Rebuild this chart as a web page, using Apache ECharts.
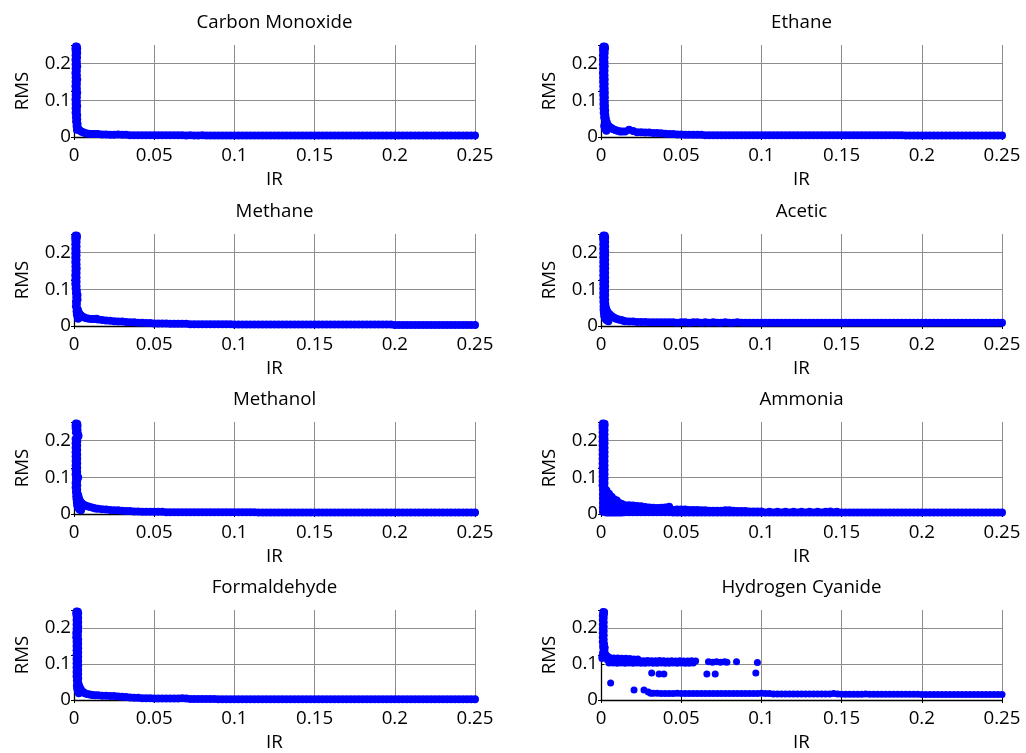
<!DOCTYPE html>
<html>
<head>
<meta charset="utf-8">
<script src="https://cdn.jsdelivr.net/npm/echarts@6/dist/echarts.min.js"></script>
<style>html,body{margin:0;padding:0;background:#fff}#c{width:1026px;height:753px}</style>
</head>
<body>
<div id="c"></div>
<script>
// ---------------- DATA ----------------
const gasNames = ['Carbon Monoxide','Ethane','Methane','Acetic','Methanol','Ammonia','Formaldehyde','Hydrogen Cyanide'];
const irTickLabels = ['0','0.05','0.1','0.15','0.2','0.25'];
const rmsTickLabels = ['0','0.1','0.2'];
const xName = 'IR';
const yName = 'RMS';

// shared IR sample positions of the flat tails
const irTail = [
0.015,0.0175,0.02,0.0225,0.025,0.0275,0.03,0.0325,0.035,0.0375,
0.04,0.0425,0.045,0.0475,0.05,0.0525,0.055,0.0575,0.06,0.0625,
0.065,0.0675,0.07,0.0725,0.075,0.0775,0.08,0.0825,0.085,0.0875,
0.09,0.0925,0.095,0.0975,0.1,0.1025,0.105,0.1075,0.11,0.1125,
0.115,0.1175,0.12,0.1225,0.125,0.1275,0.13,0.1325,0.135,0.1375,
0.14,0.1425,0.145,0.1475,0.15,0.1525,0.155,0.1575,0.16,0.1625,
0.165,0.1675,0.17,0.1725,0.175,0.1775,0.18,0.1825,0.185,0.1875,
0.19,0.1925,0.195,0.1975,0.2,0.2025,0.205,0.2075,0.21,0.2125,
0.215,0.2175,0.22,0.2225,0.225,0.2275,0.23,0.2325,0.235,0.2375,
0.24,0.2425,0.245,0.2475,0.25];

// ---- Carbon Monoxide ----
const coHead = [
[0.0012,0.246],[0.0018,0.245],[0.0009,0.241],[0.0020,0.240],
[0.0010,0.234],[0.0020,0.228],[0.0010,0.222],[0.0019,0.216],[0.0009,0.210],[0.0018,0.204],[0.0010,0.198],[0.0020,0.192],[0.0010,0.186],[0.0018,0.180],[0.0009,0.174],[0.0018,0.168],[0.0010,0.162],[0.0020,0.156],[0.0010,0.150],[0.0018,0.144],[0.0009,0.138],[0.0018,0.132],[0.0010,0.126],[0.0020,0.120],[0.0010,0.114],[0.0018,0.108],[0.0009,0.102],[0.0018,0.096],[0.0010,0.090],[0.0020,0.084],[0.0010,0.078],[0.0018,0.072],[0.0010,0.066],[0.0020,0.060],[0.0012,0.054],[0.0020,0.048],[0.0013,0.042],[0.0022,0.036],[0.0016,0.030],[0.0024,0.025],[0.0018,0.020],
[0.0030,0.020],[0.0038,0.017],[0.0048,0.014],[0.0060,0.012],[0.0074,0.010],[0.0090,0.009],[0.0106,0.008],[0.0122,0.008],[0.0137,0.008]];
const coTail = [
0.008,0.007,0.007,0.006,0.006,0.007,0.006,0.006,0.005,0.005,
0.005,0.005,0.005,0.005,0.005,0.005,0.005,0.005,0.005,0.005,
0.005,0.005,0.004,0.005,0.004,0.004,0.005,0.004,0.004,0.004,
0.004,0.004,0.004,0.004,0.004,0.004,0.004,0.004,0.004,0.004,
0.004,0.004,0.004,0.004,0.004,0.004,0.004,0.004,0.004,0.004,
0.004,0.004,0.004,0.004,0.004,0.004,0.004,0.004,0.004,0.004,
0.004,0.004,0.004,0.004,0.004,0.004,0.004,0.004,0.004,0.004,
0.004,0.004,0.004,0.004,0.004,0.004,0.004,0.004,0.004,0.004,
0.004,0.004,0.004,0.004,0.004,0.004,0.004,0.004,0.004,0.004,
0.004,0.004,0.004,0.004,0.004];

// ---- Ethane ----
const ethaneHead = [
[0.0016,0.246],[0.0024,0.245],[0.0013,0.241],[0.0025,0.240],
[0.0013,0.234],[0.0023,0.228],[0.0012,0.222],[0.0022,0.216],[0.0012,0.210],[0.0022,0.204],[0.0012,0.198],[0.0023,0.192],[0.0013,0.186],[0.0022,0.180],[0.0012,0.174],[0.0022,0.168],[0.0013,0.162],[0.0023,0.156],[0.0013,0.150],[0.0023,0.144],[0.0014,0.138],[0.0023,0.132],[0.0014,0.126],[0.0024,0.120],[0.0014,0.114],[0.0024,0.108],[0.0015,0.102],[0.0024,0.096],[0.0015,0.090],[0.0025,0.084],[0.0016,0.078],[0.0026,0.072],[0.0017,0.066],[0.0027,0.060],
[0.0020,0.054],[0.0030,0.050],[0.0026,0.044],[0.0036,0.040],[0.0032,0.034],[0.0044,0.032],[0.0052,0.028],[0.0062,0.025],[0.0074,0.022],[0.0088,0.019],[0.0103,0.017],[0.0118,0.015],[0.0132,0.015],
[0.0020,0.030],[0.0026,0.022],[0.0034,0.017]];
const ethaneTail = [
0.015,0.020,0.016,0.013,0.013,0.012,0.012,0.011,0.011,0.010,
0.009,0.008,0.008,0.007,0.007,0.006,0.006,0.006,0.006,0.006,
0.005,0.005,0.005,0.005,0.005,0.005,0.005,0.005,0.005,0.005,
0.005,0.005,0.005,0.005,0.005,0.005,0.005,0.005,0.005,0.005,
0.005,0.005,0.005,0.005,0.005,0.005,0.005,0.005,0.005,0.005,
0.005,0.005,0.005,0.005,0.005,0.005,0.005,0.005,0.005,0.005,
0.005,0.005,0.005,0.005,0.005,0.005,0.005,0.005,0.005,0.005,
0.004,0.004,0.004,0.004,0.004,0.004,0.004,0.004,0.004,0.004,
0.004,0.004,0.004,0.004,0.004,0.004,0.004,0.004,0.004,0.004,
0.004,0.004,0.004,0.004,0.004];

// ---- Methane ----
const methaneHead = [
[0.0010,0.246],[0.0018,0.245],[0.0008,0.241],[0.0018,0.240],
[0.0008,0.234],[0.0016,0.228],[0.0008,0.222],[0.0016,0.216],[0.0008,0.210],[0.0016,0.204],[0.0008,0.198],[0.0016,0.192],[0.0008,0.186],[0.0016,0.180],[0.0008,0.174],[0.0016,0.168],[0.0009,0.162],[0.0017,0.156],[0.0009,0.150],[0.0016,0.144],[0.0008,0.138],[0.0016,0.132],[0.0008,0.126],[0.0016,0.120],[0.0008,0.114],[0.0016,0.108],[0.0010,0.102],[0.0018,0.096],[0.0012,0.090],[0.0022,0.084],[0.0014,0.078],[0.0022,0.072],[0.0012,0.066],[0.0018,0.060],[0.0012,0.054],[0.0018,0.048],
[0.0024,0.044],[0.0028,0.038],[0.0034,0.033],[0.0042,0.029],[0.0052,0.026],[0.0064,0.023],[0.0078,0.021],[0.0094,0.020],[0.0110,0.019],[0.0126,0.019],[0.0140,0.020],
[0.0016,0.040],[0.0018,0.032],[0.0022,0.025],[0.0026,0.020]];
const methaneTail = [
0.018,0.016,0.015,0.014,0.013,0.012,0.012,0.011,0.010,0.010,
0.009,0.009,0.008,0.008,0.007,0.007,0.007,0.007,0.006,0.006,
0.006,0.006,0.006,0.005,0.005,0.005,0.005,0.005,0.005,0.005,
0.005,0.005,0.005,0.005,0.004,0.004,0.004,0.004,0.004,0.004,
0.004,0.004,0.004,0.004,0.004,0.004,0.004,0.004,0.004,0.004,
0.004,0.004,0.004,0.004,0.004,0.004,0.004,0.004,0.004,0.004,
0.004,0.004,0.004,0.004,0.004,0.004,0.004,0.004,0.004,0.004,
0.004,0.004,0.004,0.004,0.003,0.003,0.003,0.003,0.003,0.003,
0.003,0.003,0.003,0.003,0.003,0.003,0.003,0.003,0.003,0.003,
0.003,0.003,0.003,0.003,0.003];

// ---- Acetic ----
const aceticHead = [
[0.0016,0.246],[0.0024,0.245],[0.0013,0.241],[0.0026,0.240],
[0.0014,0.234],[0.0026,0.228],[0.0014,0.222],[0.0026,0.216],[0.0014,0.210],[0.0026,0.204],[0.0014,0.198],[0.0026,0.192],[0.0014,0.186],[0.0026,0.180],[0.0014,0.174],[0.0026,0.168],[0.0014,0.162],[0.0026,0.156],[0.0014,0.150],[0.0026,0.144],[0.0014,0.138],[0.0026,0.132],[0.0014,0.126],[0.0026,0.120],[0.0014,0.114],[0.0026,0.108],[0.0014,0.102],[0.0026,0.096],[0.0014,0.090],[0.0026,0.084],[0.0014,0.078],[0.0026,0.072],[0.0015,0.066],[0.0027,0.060],[0.0016,0.054],[0.0030,0.050],
[0.0034,0.044],[0.0040,0.039],[0.0048,0.034],[0.0058,0.030],[0.0068,0.026],[0.0080,0.023],[0.0094,0.020],[0.0110,0.018],[0.0126,0.016],[0.0140,0.014],
[0.0016,0.044],[0.0018,0.036],[0.0020,0.028],[0.0026,0.021],[0.0034,0.016],[0.0046,0.013]];
const aceticTail = [
0.013,0.012,0.012,0.011,0.011,0.011,0.010,0.010,0.010,0.010,
0.010,0.010,0.010,0.009,0.010,0.010,0.009,0.010,0.010,0.009,
0.010,0.009,0.010,0.009,0.009,0.010,0.009,0.009,0.010,0.009,
0.009,0.009,0.009,0.009,0.009,0.009,0.009,0.009,0.009,0.009,
0.009,0.009,0.009,0.009,0.009,0.009,0.009,0.009,0.009,0.009,
0.009,0.009,0.009,0.009,0.009,0.009,0.009,0.009,0.009,0.009,
0.009,0.009,0.009,0.009,0.009,0.009,0.009,0.009,0.009,0.009,
0.009,0.009,0.009,0.009,0.009,0.009,0.009,0.009,0.009,0.009,
0.009,0.009,0.009,0.009,0.009,0.009,0.009,0.009,0.009,0.009,
0.009,0.009,0.009,0.009,0.009];

// ---- Methanol ----
const methanolHead = [
[0.0012,0.246],[0.0020,0.245],[0.0010,0.241],[0.0022,0.240],
[0.0010,0.234],[0.0022,0.228],[0.0012,0.222],[0.0026,0.216],[0.0028,0.212],[0.0022,0.208],[0.0010,0.204],[0.0020,0.198],[0.0010,0.192],[0.0020,0.186],[0.0010,0.180],[0.0020,0.174],[0.0010,0.168],[0.0020,0.162],[0.0010,0.156],[0.0020,0.150],[0.0010,0.144],[0.0020,0.138],[0.0010,0.132],[0.0020,0.126],[0.0010,0.120],[0.0020,0.114],[0.0010,0.108],[0.0022,0.102],[0.0026,0.099],[0.0012,0.096],[0.0020,0.090],[0.0010,0.084],[0.0020,0.078],[0.0010,0.072],[0.0020,0.066],[0.0012,0.060],[0.0022,0.056],
[0.0026,0.050],[0.0030,0.044],[0.0034,0.038],[0.0040,0.033],[0.0048,0.029],[0.0058,0.026],[0.0070,0.023],[0.0085,0.021],[0.0100,0.019],[0.0118,0.017],[0.0134,0.015],
[0.0014,0.048],[0.0016,0.040],[0.0018,0.032],[0.0020,0.024],[0.0026,0.017],[0.0034,0.012],[0.0044,0.010]];
const methanolTail = [
0.014,0.013,0.012,0.011,0.010,0.010,0.009,0.008,0.008,0.007,
0.007,0.006,0.006,0.006,0.006,0.006,0.006,0.005,0.005,0.005,
0.005,0.005,0.005,0.005,0.005,0.005,0.005,0.005,0.005,0.005,
0.005,0.005,0.005,0.005,0.005,0.005,0.005,0.005,0.005,0.005,
0.004,0.004,0.004,0.004,0.004,0.004,0.004,0.004,0.004,0.004,
0.004,0.004,0.004,0.004,0.004,0.004,0.004,0.004,0.004,0.004,
0.004,0.004,0.004,0.004,0.004,0.004,0.004,0.004,0.004,0.004,
0.004,0.004,0.004,0.004,0.004,0.004,0.004,0.004,0.004,0.004,
0.004,0.004,0.004,0.004,0.004,0.004,0.004,0.004,0.004,0.004,
0.004,0.004,0.004,0.004,0.004];

// ---- Ammonia ----
const ammoniaHead = [
[0.0012,0.246],[0.0022,0.245],[0.0010,0.241],[0.0022,0.240],
[0.0010,0.234],[0.0022,0.228],[0.0010,0.222],[0.0022,0.216],[0.0010,0.210],[0.0022,0.204],[0.0010,0.198],[0.0022,0.192],[0.0010,0.186],[0.0022,0.180],[0.0010,0.174],[0.0022,0.168],[0.0010,0.162],[0.0022,0.156],[0.0010,0.150],[0.0022,0.144],[0.0010,0.138],[0.0022,0.132],[0.0010,0.126],[0.0022,0.120],[0.0010,0.114],[0.0022,0.108],[0.0010,0.102],[0.0022,0.096],[0.0010,0.090],[0.0022,0.084],[0.0010,0.078],[0.0022,0.072],[0.0012,0.066],[0.0022,0.060],[0.0012,0.054],[0.0022,0.048],[0.0012,0.042],[0.0022,0.036],[0.0012,0.030],[0.0022,0.024],[0.0012,0.018],[0.0022,0.012],[0.0012,0.006],
[0.0034,0.004],[0.0034,0.013],[0.0034,0.022],[0.0034,0.031],[0.0034,0.040],[0.0034,0.049],[0.0034,0.058],[0.0034,0.064],
[0.0050,0.004],[0.0050,0.013],[0.0050,0.022],[0.0050,0.031],[0.0050,0.040],[0.0050,0.049],[0.0050,0.055],
[0.0066,0.004],[0.0066,0.013],[0.0066,0.022],[0.0066,0.031],[0.0066,0.040],[0.0066,0.047],
[0.0082,0.004],[0.0082,0.013],[0.0082,0.022],[0.0082,0.031],[0.0082,0.040],
[0.0098,0.004],[0.0098,0.013],[0.0098,0.022],[0.0098,0.031],[0.0098,0.037],
[0.0114,0.004],[0.0114,0.013],[0.0114,0.022],[0.0114,0.030],
[0.0130,0.004],[0.0130,0.013],[0.0130,0.022],[0.0130,0.027]];
const ammoniaUpper = [
[0.015,0.013],[0.015,0.024],[0.0175,0.013],[0.0175,0.024],[0.02,0.013],[0.02,0.023],[0.0225,0.013],[0.0225,0.022],[0.025,0.013],[0.025,0.021],[0.0275,0.012],[0.0275,0.019],[0.03,0.012],[0.03,0.018],[0.0325,0.012],[0.0325,0.017],[0.035,0.011],[0.035,0.016],[0.0375,0.011],[0.0375,0.017],[0.04,0.012],[0.04,0.018],[0.0425,0.012],[0.0425,0.020],
[0.045,0.011],[0.0475,0.012],[0.05,0.012],[0.0525,0.012],[0.055,0.011],[0.0575,0.011],[0.06,0.011],[0.0625,0.010],[0.065,0.010],[0.0675,0.009],[0.07,0.009],[0.0725,0.009],[0.075,0.009],[0.0775,0.010],[0.08,0.010],[0.0825,0.009],[0.085,0.008],[0.0875,0.008],[0.09,0.008],[0.0925,0.007],[0.095,0.007],[0.0975,0.007],[0.1,0.007],[0.105,0.006],[0.11,0.006],[0.115,0.006],[0.12,0.006],[0.125,0.006],[0.13,0.006],[0.135,0.006],[0.14,0.006],[0.143,0.007],[0.147,0.006]];
const ammoniaTail = [
0.005,0.005,0.005,0.005,0.005,0.005,0.005,0.005,0.005,0.005,
0.005,0.005,0.004,0.004,0.004,0.004,0.004,0.004,0.004,0.004,
0.004,0.004,0.004,0.004,0.004,0.004,0.004,0.004,0.004,0.004,
0.004,0.004,0.004,0.004,0.004,0.004,0.004,0.004,0.004,0.004,
0.004,0.004,0.004,0.004,0.004,0.004,0.004,0.004,0.004,0.004,
0.004,0.004,0.004,0.004,0.004,0.004,0.004,0.004,0.004,0.004,
0.004,0.004,0.004,0.004,0.004,0.004,0.004,0.004,0.004,0.004,
0.004,0.004,0.004,0.004,0.004,0.004,0.004,0.004,0.004,0.004,
0.004,0.004,0.004,0.004,0.004,0.004,0.004,0.004,0.004,0.004,
0.004,0.004,0.004,0.004,0.004];

// ---- Formaldehyde ----
const formaldehydeHead = [
[0.0016,0.246],[0.0024,0.245],[0.0014,0.241],[0.0026,0.240],
[0.0016,0.234],[0.0026,0.228],[0.0016,0.222],[0.0026,0.216],[0.0016,0.210],[0.0026,0.204],[0.0016,0.198],[0.0026,0.192],[0.0014,0.186],[0.0024,0.180],[0.0014,0.174],[0.0026,0.168],[0.0016,0.162],[0.0026,0.156],[0.0016,0.150],[0.0026,0.144],[0.0016,0.138],[0.0026,0.132],[0.0016,0.126],[0.0026,0.120],[0.0016,0.114],[0.0026,0.108],[0.0016,0.102],[0.0026,0.096],[0.0016,0.090],[0.0026,0.084],[0.0016,0.078],[0.0026,0.072],[0.0016,0.066],[0.0026,0.060],[0.0018,0.054],[0.0026,0.048],
[0.0030,0.042],[0.0034,0.036],[0.0040,0.031],[0.0047,0.026],[0.0056,0.022],[0.0068,0.019],[0.0082,0.017],[0.0098,0.015],[0.0114,0.014],[0.0130,0.0135],
[0.0018,0.040],[0.0020,0.032],[0.0024,0.025],[0.0030,0.019]];
const formaldehydeTail = [
0.013,0.012,0.012,0.011,0.011,0.010,0.009,0.008,0.007,0.006,
0.006,0.005,0.005,0.005,0.004,0.004,0.004,0.004,0.004,0.004,
0.004,0.005,0.004,0.003,0.003,0.003,0.003,0.003,0.003,0.003,
0.002,0.002,0.002,0.002,0.002,0.002,0.002,0.002,0.002,0.002,
0.002,0.002,0.002,0.002,0.002,0.002,0.002,0.002,0.002,0.002,
0.002,0.002,0.002,0.002,0.002,0.002,0.002,0.002,0.002,0.002,
0.002,0.002,0.002,0.002,0.002,0.002,0.002,0.002,0.002,0.002,
0.002,0.002,0.002,0.002,0.002,0.002,0.002,0.002,0.002,0.002,
0.002,0.002,0.002,0.002,0.002,0.002,0.002,0.002,0.002,0.002,
0.002,0.002,0.002,0.002,0.002];

// ---- Hydrogen Cyanide ----
const hcnHead = [
[0.0012,0.246],[0.0022,0.245],[0.0010,0.240],[0.0022,0.239],
[0.0008,0.234],[0.0020,0.228],[0.0008,0.222],[0.0020,0.216],[0.0008,0.210],[0.0020,0.204],[0.0008,0.198],[0.0020,0.192],[0.0008,0.186],[0.0020,0.180],[0.0008,0.174],[0.0020,0.168],[0.0008,0.162],[0.0022,0.156],[0.0010,0.150],[0.0026,0.146],[0.0012,0.144],[0.0024,0.138],[0.0010,0.132],[0.0026,0.130],[0.0008,0.126],[0.0018,0.124],[0.0006,0.120],[0.0006,0.115],
[0.0032,0.126],[0.0040,0.122]];
const hcnUpper = [
[0.0030,0.119],[0.0055,0.118],[0.0080,0.117],[0.0105,0.117],[0.0130,0.116],[0.0155,0.116],[0.0180,0.115],[0.0205,0.114],[0.0230,0.114],
[0.0040,0.111],[0.0065,0.111],[0.0090,0.110],[0.0115,0.111],[0.0140,0.110],[0.0165,0.109],[0.0190,0.110],[0.0215,0.109],[0.0240,0.110],[0.0265,0.109],[0.0290,0.110],[0.0315,0.109],[0.0340,0.109],[0.0365,0.110],[0.0390,0.109],[0.0415,0.108],[0.0440,0.109],[0.0465,0.108],[0.0490,0.109],[0.0515,0.108],[0.0540,0.108],[0.0565,0.109],[0.0590,0.108],
[0.0050,0.103],[0.0075,0.103],[0.0100,0.102],[0.0125,0.103],[0.0150,0.102],[0.0175,0.103],[0.0200,0.102],[0.0225,0.103],[0.0250,0.102],[0.0275,0.102],[0.0300,0.103],[0.0325,0.102],[0.0350,0.102],[0.0375,0.103],[0.0400,0.102],[0.0425,0.102],[0.0450,0.103],[0.0475,0.102],[0.0500,0.103],[0.0525,0.102],[0.0550,0.102],[0.0575,0.103],
[0.0670,0.106],[0.0695,0.105],[0.0720,0.106],[0.0745,0.105],[0.0770,0.106],[0.0785,0.105],[0.0845,0.106],[0.0975,0.104],
[0.0316,0.075],[0.0362,0.072],[0.0392,0.072],[0.0660,0.072],[0.0712,0.072],[0.0965,0.075],
[0.0060,0.047],
[0.0206,0.028],[0.0268,0.028],[0.0295,0.022],[0.0310,0.019]];
const hcnTail = [
null,null,null,null,null,null,null,0.019,0.019,0.018,
0.018,0.018,0.018,0.019,0.018,0.018,0.018,0.018,0.018,0.018,
0.018,0.018,0.018,0.018,0.018,0.018,0.018,0.018,0.018,0.018,
0.018,0.018,0.018,0.018,0.019,0.018,0.018,0.017,0.017,0.017,
0.017,0.017,0.017,0.017,0.017,0.017,0.017,0.017,0.017,0.017,
0.017,0.017,0.018,0.017,0.016,0.016,0.016,0.016,0.016,0.016,
0.017,0.016,0.016,0.016,0.016,0.016,0.016,0.016,0.016,0.016,
0.016,0.016,0.016,0.016,0.015,0.015,0.015,0.015,0.015,0.015,
0.015,0.015,0.015,0.015,0.015,0.015,0.015,0.015,0.015,0.015,
0.015,0.015,0.015,0.015,0.015];

const gasHeads = [coHead, ethaneHead, methaneHead, aceticHead, methanolHead, ammoniaHead, formaldehydeHead, hcnHead];
const gasTails = [coTail, ethaneTail, methaneTail, aceticTail, methanolTail, ammoniaTail, formaldehydeTail, hcnTail];
const gasExtras = [[], [], [], [], [], ammoniaUpper, [], hcnUpper];

// ---------------- LAYOUT ----------------
const FONT = '"Open Sans", "DejaVu Sans", sans-serif';
const FS = 18.7;
const colLeft = [74, 601];
const plotW = 401;
const rowTop = [45, 234, 422, 610];
const plotH = 92;
const markerSize = [8, 8, 8, 8, 8, 8, 8, 7];

const grids = [], xAxes = [], yAxes = [], series = [], graphics = [];
gasNames.forEach((name, k) => {
  const col = k % 2, row = Math.floor(k / 2);
  const left = colLeft[col], top = rowTop[row];
  grids.push({left: left, top: top, width: plotW, height: plotH, containLabel: false});
  const txt = {color: '#000', fontFamily: FONT, fontSize: FS};
  xAxes.push({
    gridIndex: k, type: 'value', position: 'bottom', min: 0, max: 0.25, interval: 0.05,
    name: xName, nameLocation: 'middle', nameGap: 33, nameTextStyle: txt,
    axisLine: {show: true, onZero: false, lineStyle: {color: '#000', width: 1.3}},
    axisTick: {show: true, inside: true, length: 3, lineStyle: {color: '#000'}},
    axisLabel: Object.assign({margin: 9, formatter: v => irTickLabels[Math.round(v / 0.05)] || ''}, txt),
    splitLine: {show: true, showMinLine: false, showMaxLine: true, lineStyle: {color: '#8c8c8c', width: 1}}
  });
  xAxes.push({
    gridIndex: k, type: 'value', position: 'top', min: 0, max: 0.25, interval: 0.05,
    axisLine: {show: false}, axisLabel: {show: false}, splitLine: {show: false},
    axisTick: {show: true, inside: true, length: 3, lineStyle: {color: '#000'}}
  });
  yAxes.push({
    gridIndex: k, type: 'value', position: 'left', min: 0, max: 0.25, interval: 0.1,
    name: yName, nameLocation: 'middle', nameGap: 42, nameTextStyle: txt,
    axisLine: {show: true, onZero: false, lineStyle: {color: '#000', width: 1.3}},
    axisTick: {show: true, inside: true, length: 3, lineStyle: {color: '#000'}},
    axisLabel: Object.assign({margin: 3, showMaxLabel: false, formatter: v => {
      const i = Math.round(v / 0.1);
      return (Math.abs(v - i * 0.1) < 1e-9 && i < rmsTickLabels.length) ? rmsTickLabels[i] : '';
    }}, txt),
    splitLine: {show: true, showMinLine: false, showMaxLine: false, lineStyle: {color: '#8c8c8c', width: 1}}
  });
  yAxes.push({
    gridIndex: k, type: 'value', position: 'right', min: 0, max: 0.2, interval: 0.1,
    axisLine: {show: false}, axisLabel: {show: false}, splitLine: {show: false},
    axisTick: {show: true, inside: true, length: 3, lineStyle: {color: '#000'}}
  });
  const tailPts = [];
  irTail.forEach((x, i) => { const y = gasTails[k][i]; if (y !== null && y !== undefined) tailPts.push([x, y]); });
  series.push({
    type: 'scatter', name: name, xAxisIndex: 2 * k, yAxisIndex: 2 * k,
    data: gasHeads[k].concat(tailPts, gasExtras[k]),
    symbol: 'circle', symbolSize: markerSize[k], itemStyle: {color: '#0000ff', opacity: 1},
    silent: true, animation: false, clip: false
  });
  graphics.push({
    type: 'text', x: left + plotW / 2, y: top - 22, z: 10,
    style: {text: name, fill: '#000', font: FS + 'px ' + FONT, fontSize: FS, fontFamily: FONT,
            align: 'center', verticalAlign: 'middle', textAlign: 'center', textVerticalAlign: 'middle'}
  });
});

const chart = echarts.init(document.getElementById('c'), null, {renderer: 'canvas'});
chart.setOption({
  backgroundColor: '#fff',
  animation: false,
  grid: grids, xAxis: xAxes, yAxis: yAxes, series: series, graphic: graphics
});
</script>
</body>
</html>
